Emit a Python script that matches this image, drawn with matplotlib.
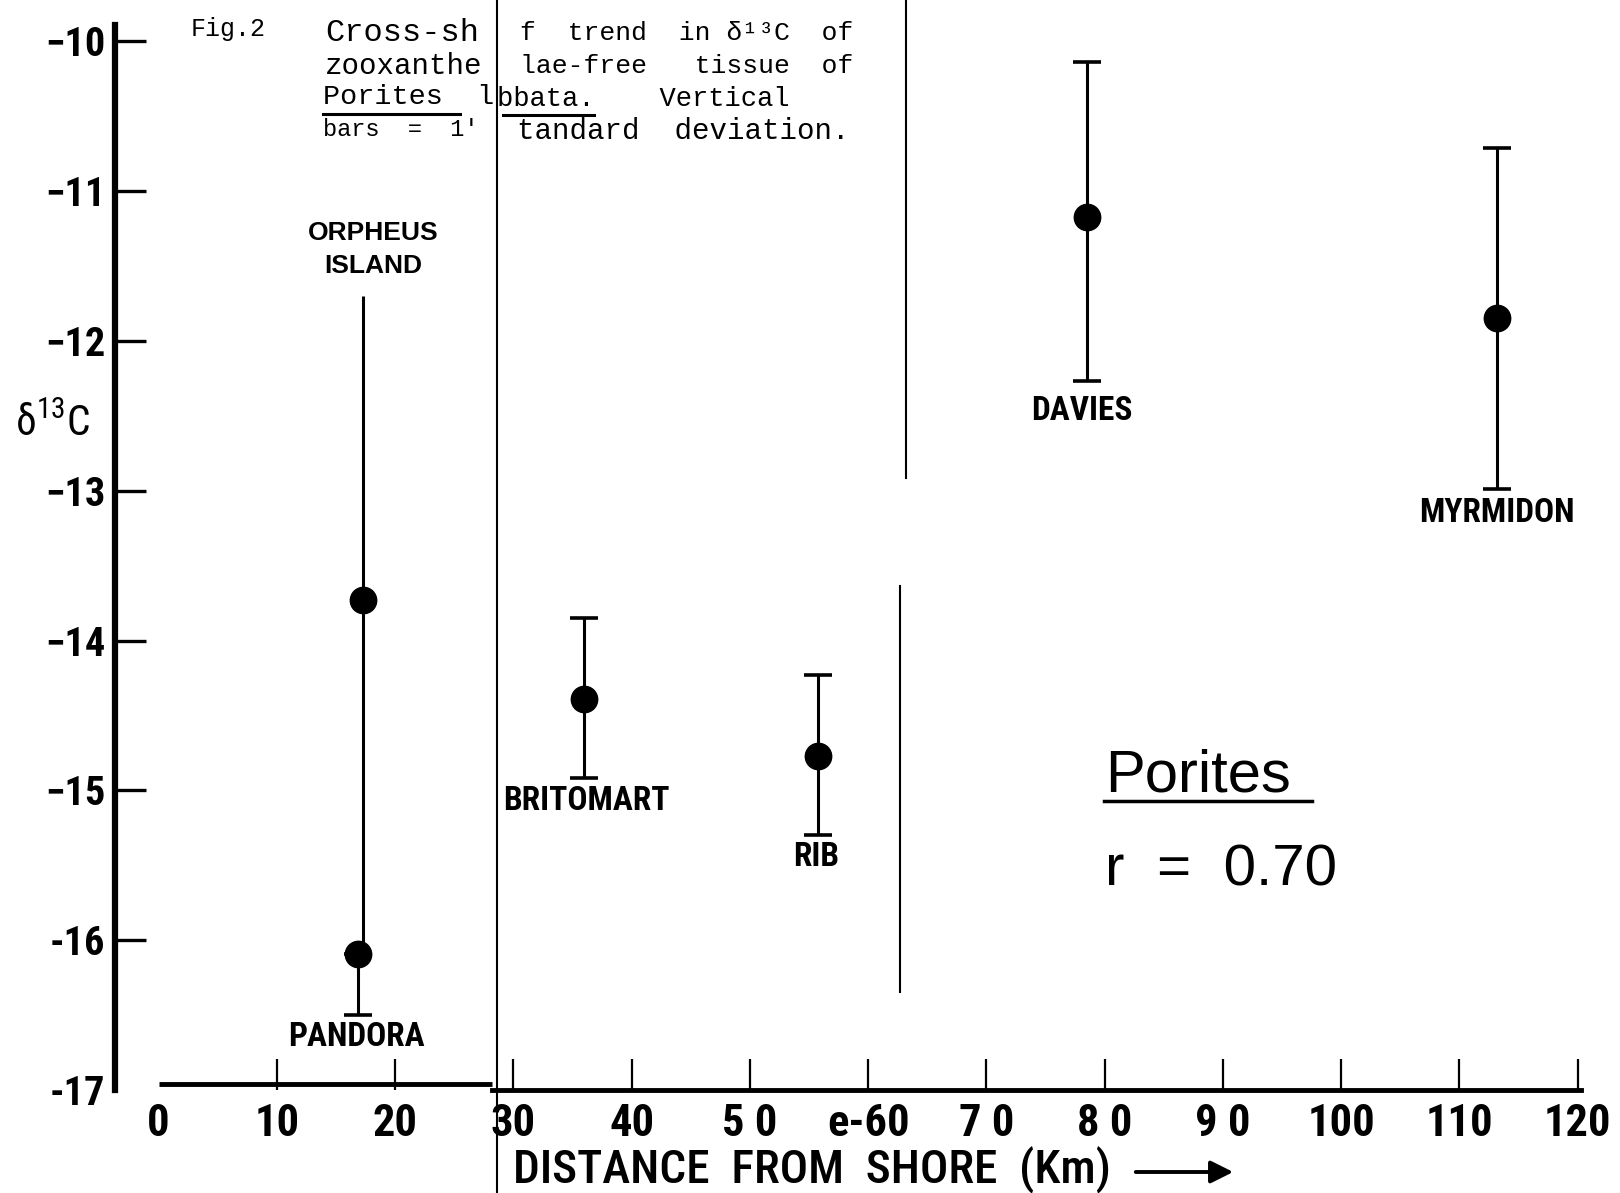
import matplotlib
matplotlib.use('Agg')
import matplotlib.pyplot as plt
from matplotlib import font_manager as fm
from matplotlib.lines import Line2D

# ---------------- data ----------------
sites = ['ORPHEUS\nISLAND', 'PANDORA', 'BRITOMART', 'RIB', 'DAVIES', 'MYRMIDON']
distance_km = [17.3, 16.9, 36.0, 55.8, 78.5, 113.2]
delta13c = [-13.73, -16.09, -14.39, -14.77, -11.17, -11.85]
sd_upper = [2.03, 0.0, 0.54, 0.54, 1.03, 1.14]
sd_lower = [2.36, 0.41, 0.53, 0.53, 1.10, 1.14]

x_ticks = [0, 10, 20, 30, 40, 50, 60, 70, 80, 90, 100, 110, 120]
x_tick_labels = ['0', '10', '20', '30', '40', '5 0', 'e-60', '7 0', '8 0', '9 0', '100', '110', '120']
y_ticks = [-10, -11, -12, -13, -14, -15, -16, -17]
y_tick_labels = ['\u221210', '\u221211', '\u221212', '\u221213', '\u221214', '\u221215', '-16', '-17']
correlation_r = '0.70'

# ---------------- fonts ----------------
names = {f.name for f in fm.fontManager.ttflist}
cond = next((n for n in ['Liberation Sans Narrow', 'Roboto Condensed', 'Open Sans Condensed',
                         'DejaVu Sans Condensed', 'DejaVu Sans'] if n in names), 'DejaVu Sans')
mono = 'Liberation Mono' if 'Liberation Mono' in names else 'DejaVu Sans Mono'
sans = 'Liberation Sans' if 'Liberation Sans' in names else 'DejaVu Sans'

W, H = 1620, 1193
fig = plt.figure(figsize=(W / 100, H / 100), dpi=100)
fig.patch.set_facecolor('white')


def fx(px):
    return px / W


def fy(py):
    return 1 - py / H


ax = fig.add_axes([fx(115), fy(1090), fx(1600) - fx(115), fy(25) - fy(1090)])
ax.set_xlim(-3.69, 121.9)
ax.set_ylim(-17.0, -9.891)
ax.set_facecolor('none')

for s in ['top', 'right']:
    ax.spines[s].set_visible(False)
ax.spines['left'].set_linewidth(4.5)
ax.spines['bottom'].set_linewidth(3.5)
ax.spines['bottom'].set_bounds(28.2, 120.3)
# left piece of the (spliced) x axis
ax.plot([0, 28.2], [-16.96, -16.96], color='black', lw=3.5, solid_capstyle='butt', clip_on=False)

ax.set_xticks(x_ticks)
ax.set_xticklabels(x_tick_labels)
ax.set_yticks(y_ticks)
ax.set_yticklabels(y_tick_labels)
ax.tick_params(axis='x', direction='in', length=22, width=1.6, pad=9, labelsize=32)
ax.tick_params(axis='y', direction='in', length=22, width=2.4, pad=7, labelsize=29)
ax.xaxis.get_major_ticks()[0].tick1line.set_visible(False)
ax.yaxis.get_major_ticks()[-1].tick1line.set_visible(False)
for lab in ax.get_xticklabels() + ax.get_yticklabels():
    lab.set_family(cond)
    lab.set_fontstretch('condensed')
    lab.set_fontweight('semibold')

# ---------------- data marks ----------------
for i, (x, y, lo, hi) in enumerate(zip(distance_km, delta13c, sd_lower, sd_upper)):
    ax.errorbar(x, y, yerr=[[lo], [hi]], fmt='o', color='black', ms=19,
                elinewidth=2.2, capsize=0 if i == 0 else 10, capthick=2.6, clip_on=False)

# site labels (layout offsets in points)
label_off = [(7.4, 33.5), (-1.5, -4), (1.5, -5), (-1.5, -4), (-3.6, -10), (0, -5.5)]
for i, (name, x, y, lo, hi) in enumerate(zip(sites, distance_km, delta13c, sd_lower, sd_upper)):
    dx, dy = label_off[i]
    if i == 0:
        ax.annotate(name, (x, y + hi), xytext=(dx, dy), textcoords='offset points',
                    ha='center', va='center', fontsize=19, fontweight='bold', family=sans,
                    linespacing=1.45)
    else:
        ax.annotate(name, (x, y - lo), xytext=(dx, dy), textcoords='offset points',
                    ha='center', va='top', fontsize=24, fontweight='bold', family=cond,
                    fontstretch='condensed')

# ---------------- axis titles ----------------
fig.text(fx(52), fy(424), r'$\mathregular{\delta^{13}C}$', fontsize=30, ha='center', va='center',
         family=cond, fontstretch='condensed')
fig.text(fx(513), fy(1170), 'DISTANCE  FROM  SHORE  (Km)', fontsize=34, ha='left', va='center',
         family=cond, fontstretch='condensed', fontweight='medium')
fig.add_artist(matplotlib.patches.FancyArrowPatch((fx(1133), fy(1172)), (fx(1236), fy(1172)),
                                                  transform=fig.transFigure, arrowstyle='-|>',
                                                  mutation_scale=34, lw=2.8, color='black'))

# ---------------- annotation in plot ----------------
fig.text(fx(1105), fy(792), 'Porites', fontsize=43, family=sans, va='baseline', ha='left')
fig.add_artist(Line2D([fx(1104), fx(1312)], [fy(801), fy(801)], lw=2.5, color='black'))
fig.text(fx(1105), fy(886), 'r  =  ' + correlation_r, fontsize=42, family=sans, va='baseline', ha='left')

# ---------------- caption (partly cut in the scan) ----------------
fig.text(fx(191), fy(29), 'Fig.2', fontsize=18, family=mono, va='center', ha='left')
fig.text(fx(325), fy(33), 'Cross-sh', fontsize=23, family=mono, va='center', ha='left')
fig.text(fx(325), fy(66), 'zooxanthe', fontsize=21, family=mono, va='center', ha='left')
fig.text(fx(323), fy(97), 'Porites  l', fontsize=20.5, family=mono, va='center', ha='left')
fig.text(fx(323), fy(130), "bars  =  1'", fontsize=17, family=mono, va='center', ha='left')
fig.text(fx(520), fy(33), 'f  trend  in \u03b4\u00b9\u00b3C  of', fontsize=19, family=mono, va='center', ha='left')
fig.text(fx(520), fy(66), 'lae-free   tissue  of', fontsize=19, family=mono, va='center', ha='left')
fig.text(fx(497), fy(99), 'bbata.    Vertical', fontsize=19.5, family=mono, va='center', ha='left')
fig.text(fx(517), fy(131), 'tandard  deviation.', fontsize=21, family=mono, va='center', ha='left')
fig.add_artist(Line2D([fx(323), fx(460)], [fy(114), fy(114)], lw=2.2, color='black'))
fig.add_artist(Line2D([fx(503), fx(594)], [fy(115), fy(115)], lw=2.2, color='black'))

# ---------------- splice lines of the scanned page ----------------
fig.add_artist(Line2D([fx(497), fx(497)], [fy(0), fy(1193)], lw=1.5, color='black'))
fig.add_artist(Line2D([fx(906), fx(906)], [fy(0), fy(478)], lw=1.5, color='black'))
fig.add_artist(Line2D([fx(900), fx(900)], [fy(586), fy(992)], lw=1.5, color='black'))

fig.savefig('out.png', dpi=100, facecolor='white')
